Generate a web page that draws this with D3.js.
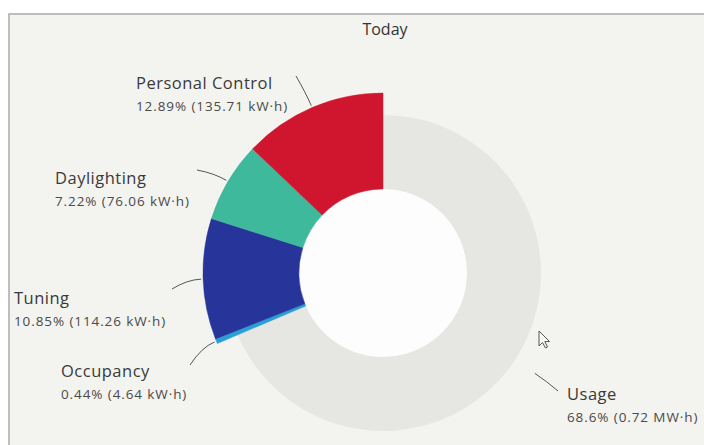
<!DOCTYPE html>
<html>
<head>
<meta charset="utf-8">
<script src="https://cdn.jsdelivr.net/npm/d3@7"></script>
<style>
  html, body { margin: 0; padding: 0; background: #fff; }
  svg { display: block; font-family: "Open Sans", sans-serif; }
</style>
</head>
<body>
<svg id="chart" width="704" height="445"></svg>
<script>
// slices, clockwise from 12 o'clock
const names = ["Usage", "Occupancy", "Tuning", "Daylighting", "Personal Control"];
const kwh = [722.2, 4.64, 114.26, 76.06, 135.71];
const pctLabels = ["68.6%", "0.44%", "10.85%", "7.22%", "12.89%"];
const amountLabels = ["0.72 MW·h", "4.64 kW·h", "114.26 kW·h", "76.06 kW·h", "135.71 kW·h"];
const colors = ["#e6e6e3", "#2a9fd6", "#27349a", "#3fb99c", "#d0162f"];

// label placement (layout only)
const labelLayout = {
  "Personal Control": { x: 136, y: 89, ax: 296, ay: 76 },
  "Daylighting": { x: 55, y: 184, ax: 197, ay: 170 },
  "Tuning": { x: 14, y: 304, ax: 172, ay: 289 },
  "Occupancy": { x: 61, y: 377, ax: 190, ay: 365 },
  "Usage": { x: 567, y: 400, ax: 558, ay: 391 },
};

const W = 704, H = 445;
const cx = 383, cy = 273;
const rInner = 84, rOuter = 180, rUsage = 158, rConn = 182;

const svg = d3.select("#chart");

// photo frame
svg.append("rect").attr("x", 9).attr("y", 14).attr("width", W + 20).attr("height", H)
  .attr("fill", "#f3f3ef").attr("stroke", "#aaa").attr("stroke-width", 1.5);

svg.append("text")
  .attr("x", 385).attr("y", 35)
  .attr("text-anchor", "middle")
  .attr("font-size", 16).attr("fill", "#333")
  .text("Today");

const pie = d3.pie().sort(null).value((d) => d.value);
const data = names.map((n, i) => ({ name: n, value: kwh[i], color: colors[i], pct: pctLabels[i], amount: amountLabels[i] }));
const arcs = pie(data);

const g = svg.append("g").attr("transform", `translate(${cx},${cy})`);

// hole shows brighter than the surrounding background
g.append("circle").attr("r", rInner).attr("fill", "#fdfdfd");

const arc = d3.arc()
  .innerRadius(rInner)
  .outerRadius((d) => (d.data.name === "Usage" ? rUsage : rOuter));

g.selectAll("path.slice")
  .data(arcs)
  .enter()
  .append("path")
  .attr("class", "slice")
  .attr("d", arc)
  .attr("fill", (d) => d.data.color)
  .attr("stroke", (d) => (d.data.name === "Usage" ? "none" : d.data.color))
  .attr("stroke-width", 0.5);

// connectors and labels
const polar = (a, r) => [cx + r * Math.sin(a), cy - r * Math.cos(a)];
arcs.forEach((d) => {
  const lay = labelLayout[d.data.name];
  const mid = (d.startAngle + d.endAngle) / 2;
  const [sx, sy] = polar(mid, rConn);
  const [qx, qy] = polar(mid, rConn + 14);
  const p = d3.path();
  p.moveTo(sx, sy);
  p.quadraticCurveTo(qx, qy, lay.ax, lay.ay);
  svg.append("path").attr("d", p.toString())
    .attr("fill", "none").attr("stroke", "#555").attr("stroke-width", 1);

  svg.append("text").attr("x", lay.x).attr("y", lay.y)
    .attr("font-size", 16.5).attr("letter-spacing", 0.5).attr("fill", "#3a3a3a")
    .text(d.data.name);
  svg.append("text").attr("x", lay.x).attr("y", lay.y + 22)
    .attr("font-size", 13.5).attr("letter-spacing", 0.9).attr("fill", "#4a4a4a")
    .text(`${d.data.pct} (${d.data.amount})`);
});

// mouse pointer in the photo
svg.append("path")
  .attr("transform", "translate(539,331)")
  .attr("d", "M0,0 L0,15 L3.5,11.5 L6.5,17 L8.5,16 L5.8,10.6 L10.5,10.5 Z")
  .attr("fill", "#f8f8f8").attr("stroke", "#555").attr("stroke-width", 1);
</script>
</body>
</html>
